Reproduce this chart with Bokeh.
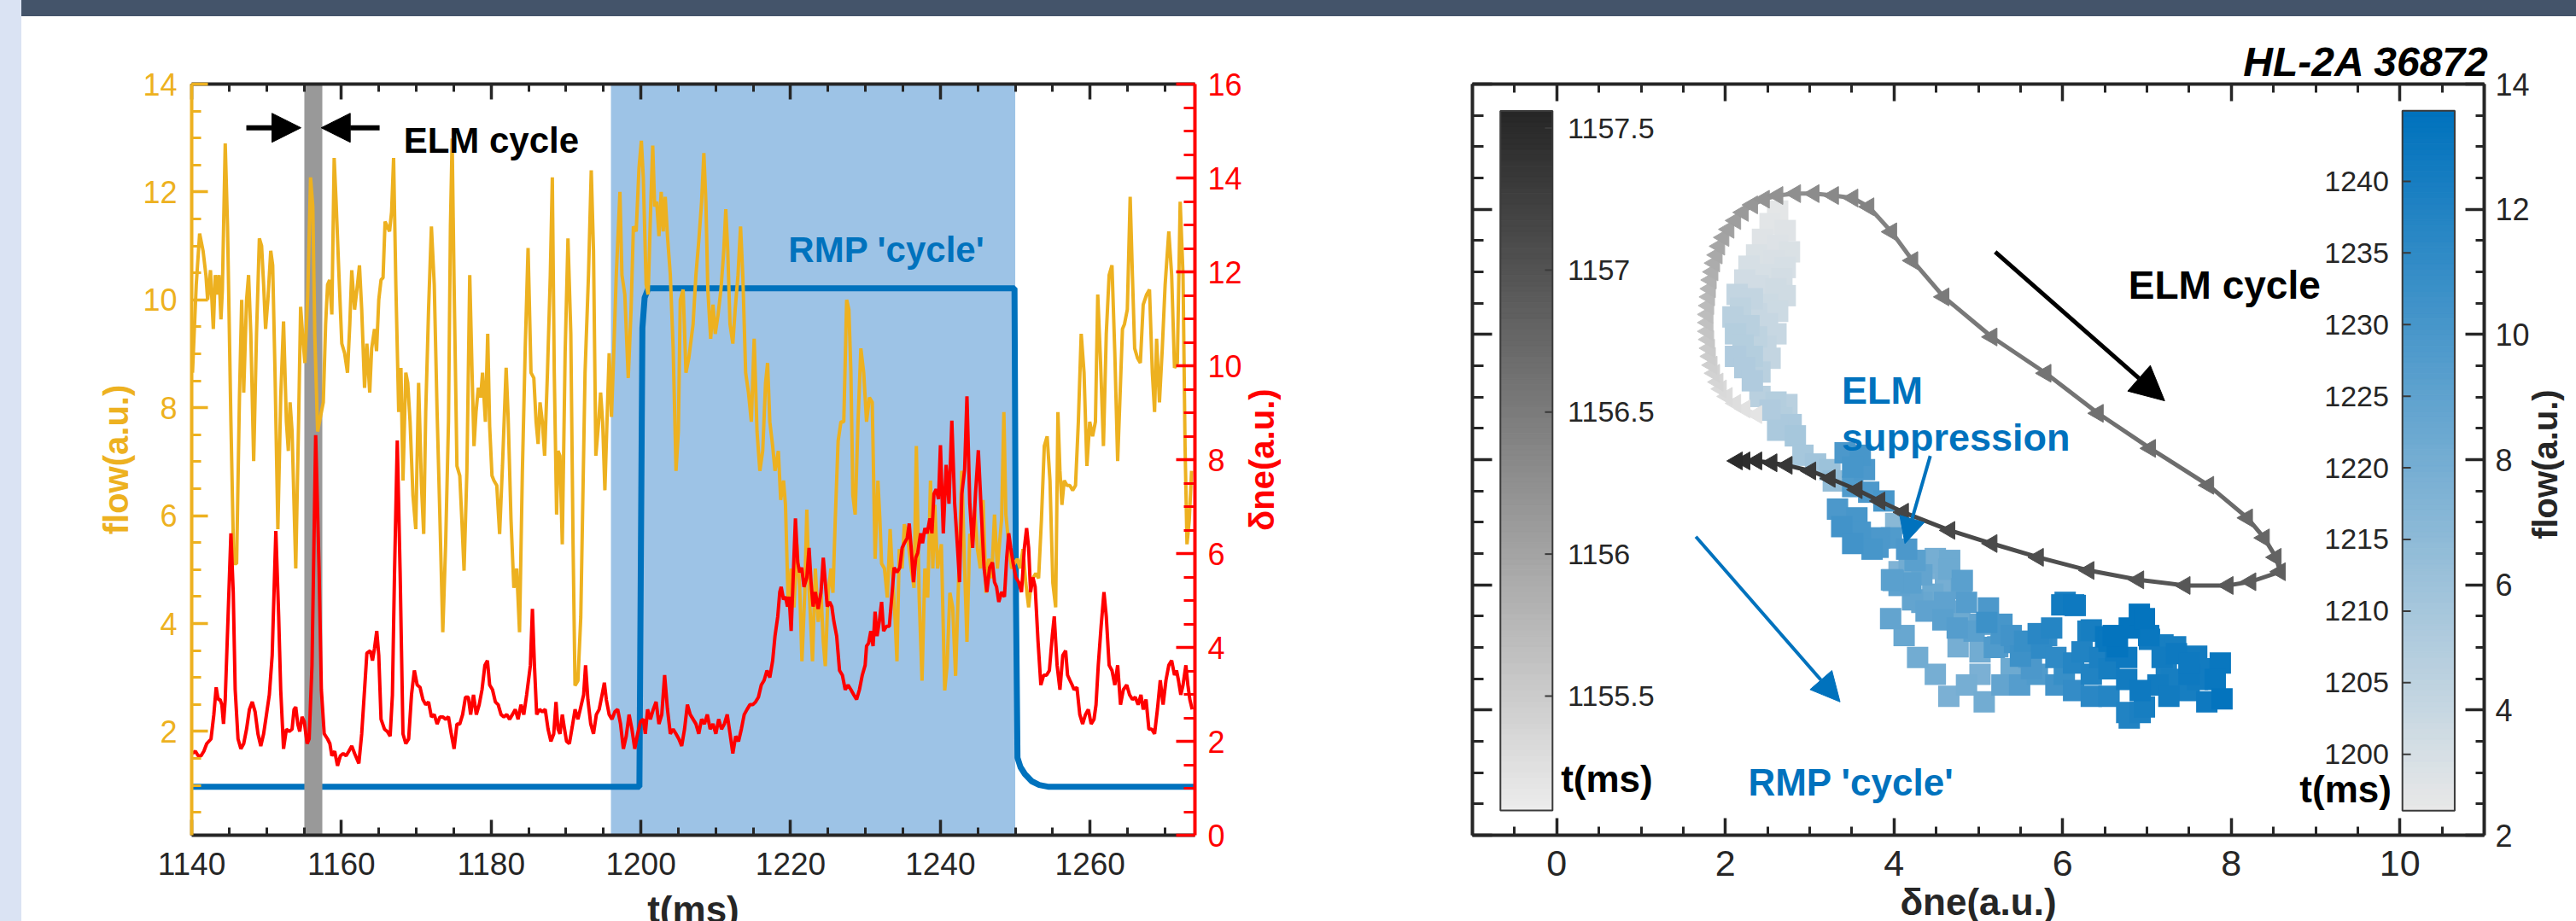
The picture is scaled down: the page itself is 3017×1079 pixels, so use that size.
import numpy as np
from bokeh.plotting import figure
from bokeh.models import (Range1d, LinearAxis, SingleIntervalTicker, FixedTicker, BoxAnnotation, Label,
                          Arrow, NormalHead, ColumnDataSource, Div)
from bokeh.layouts import row, column
from bokeh.embed import file_html
from bokeh.resources import INLINE
from bokeh.transform import linear_cmap
from bokeh.core.properties import value

FONT = "Liberation Sans"
GOLD = "#EDB120"
RED = "#FF0000"
BLUE = "#0072BD"
DARK = "#262626"

# ---------------- left panel data (t in ms) ----------------
flow_a = [(1140.11,8.65),(1140.61,10.28),(1141.06,11.23),(1141.52,10.91),(1141.90,10.46),(1142.13,10.0),
(1142.51,10.55),(1142.89,9.46),(1143.15,10.46),(1143.42,10.1),(1143.65,10.46),(1143.91,9.64),(1144.10,10.19),
(1144.48,12.9),(1144.79,11.36),(1145.24,7.74),(1145.62,5.11),(1146.00,5.11),(1146.38,8.19),(1146.68,10.0),
(1146.95,8.28),(1147.33,10.0),(1147.60,10.46),(1147.90,9.37),(1148.28,7.01),(1148.66,9.37),(1149.04,11.14),
(1149.34,11.0),(1149.61,10.28),(1149.87,9.46),(1150.18,10.0),(1150.56,10.91),(1150.82,10.64),(1151.13,8.65),
(1151.51,5.75),(1151.89,8.19),(1152.27,9.6),(1152.65,7.74),(1152.91,7.2),(1153.14,8.1),(1153.41,7.56),
(1153.90,5.02),(1154.28,7.74),(1154.55,9.87),(1154.81,9.37),(1155.12,8.83),(1155.50,10.1),(1155.88,12.27),
(1156.18,11.73),(1156.44,9.37),(1156.82,7.56),(1157.20,7.83),(1157.58,8.1),(1157.89,9.55),(1158.15,10.28),
(1158.42,10.37),(1158.72,9.73),(1159.03,12.63),(1159.29,11.82),(1159.67,10.46),(1160.05,9.19),(1160.43,9.01),
(1160.81,8.65),(1161.12,9.55),(1161.38,10.55),(1161.76,9.82),(1162.14,10.28),(1162.41,10.64),(1162.71,9.82),
(1163.09,8.37),(1163.40,9.19),(1163.78,8.28),(1164.04,9.1),(1164.42,9.46),(1164.69,9.05),(1164.99,10.0),
(1165.29,10.37),(1165.56,10.41),(1165.83,11.45),(1166.13,11.36),(1166.43,11.27),(1166.70,11.63),(1166.97,12.63),
(1167.27,10.28),(1167.65,7.92),(1167.95,8.74),(1168.22,6.65),(1168.60,8.65),(1168.86,8.46),(1169.17,7.74),
(1169.55,6.38),(1169.93,5.75),(1170.31,8.46),(1170.69,6.56),(1170.99,5.66),(1171.26,7.92),(1171.64,9.82),
(1172.02,11.36),(1172.40,10.28),(1172.78,7.92),(1173.16,5.93),(1173.54,3.84),(1173.92,5.47),(1174.30,7.74),
(1174.56,11.36),(1174.79,12.99),(1175.05,10.28),(1175.43,6.92),(1175.81,6.74),(1176.08,5.93),(1176.38,4.98),
(1176.76,6.83),(1177.14,10.46),(1177.45,8.65),(1177.71,7.29),(1177.98,7.92),(1178.28,8.37),(1178.59,8.19),
(1178.85,8.65),(1179.23,7.74),(1179.54,9.37),(1179.80,7.65),(1180.11,6.74),(1180.37,6.65),(1180.75,6.56),
(1181.13,5.66),(1181.51,6.92),(1182.00,8.74),(1182.27,7.83),(1182.65,5.93),(1183.03,4.66),(1183.41,5.02),
(1183.79,3.84),(1184.17,6.83),(1184.55,9.1),(1184.93,10.96)]
flow_b = [(1185.32,8.65),(1185.70,8.55),(1186.00,7.74),(1186.27,7.33),(1186.53,8.1),(1186.84,7.74),(1187.14,7.11),
(1187.52,8.65),(1187.90,10.46),(1188.17,12.27),(1188.43,8.65),(1188.74,6.02),(1188.93,7.2),(1189.19,7.11),
(1189.50,5.47),(1189.88,9.01),(1190.26,11.14),(1190.64,9.37),(1190.94,5.47),(1191.20,2.85),(1191.59,2.94),
(1191.97,4.12),(1192.54,8.65),(1193.00,10.46),(1193.37,12.4),(1193.67,10.91),(1193.98,7.11),(1194.36,7.74),
(1194.62,8.28),(1194.89,7.74),(1195.19,6.47),(1195.57,8.19),(1195.76,9.01),(1196.07,7.83),(1196.33,8.83),
(1196.71,10.46),(1197.20,12.0),(1197.47,10.46),(1197.85,10.1),(1198.31,8.55),(1198.69,9.82),(1199.00,11.36),
(1199.37,11.27),(1199.75,12.45),(1200.06,12.95),(1200.32,12.27),(1200.70,10.28),(1200.97,10.1),(1201.35,11.91),
(1201.58,12.86),(1201.84,11.73),(1202.11,11.82),(1202.41,11.18),(1202.71,12.0),(1202.98,11.27),(1203.25,11.91),
(1203.55,11.18),(1203.93,10.46),(1204.31,9.1),(1204.69,6.83),(1205.00,7.56),(1205.26,10.0),(1205.64,10.19),
(1206.02,8.65),(1206.40,8.92),(1206.97,9.55),(1207.35,10.46),(1207.73,11.09),(1208.11,11.82),(1208.41,12.72),
(1208.68,11.82),(1208.94,10.19),(1209.32,9.28),(1209.63,9.91),(1209.93,9.37),(1210.31,9.73),(1210.69,10.19),
(1211.07,10.91),(1211.34,11.68),(1211.60,10.91),(1211.90,9.55),(1212.28,9.19),(1212.59,9.82),(1212.97,10.46),
(1213.31,11.36),(1213.61,10.46),(1213.99,8.65),(1214.37,8.28),(1214.75,7.74),(1215.13,9.28),(1215.51,7.56),
(1215.89,6.83),(1216.27,7.2),(1216.65,8.46),(1216.92,8.83),(1217.22,7.74),(1217.60,7.29),(1217.91,6.83),
(1218.36,7.2),(1218.67,6.29),(1219.05,6.65),(1219.31,6.2),(1219.69,4.3),(1220.07,5.02),(1220.45,4.3),
(1220.83,5.47),(1221.21,4.66),(1221.51,3.3),(1221.89,4.57),(1222.16,6.11),(1222.46,4.66),(1222.92,3.3),
(1223.30,5.02),(1223.68,4.03),(1224.06,4.57),(1224.36,3.66),(1224.63,3.21),(1225.01,4.57),(1225.39,5.02),
(1225.65,4.57),(1225.96,5.93),(1226.34,7.38),(1226.72,7.74),(1227.10,7.74),(1227.48,10.0),(1227.78,9.82),
(1228.05,8.65),(1228.31,6.38),(1228.62,6.02),(1229.00,7.74),(1229.38,9.1),(1229.76,8.65),(1230.14,7.74)]
flow_c = [(1230.52,8.19),(1230.90,8.1),(1231.28,5.2),(1231.66,6.65),(1231.92,5.93),(1232.15,5.11),(1232.53,5.02),
(1232.91,4.48),(1233.29,5.75),(1233.56,5.02),(1233.94,4.12),(1234.20,3.3),(1234.51,5.38),(1234.89,5.02),
(1235.19,5.84),(1235.65,5.57),(1236.10,5.02),(1236.48,4.66),(1236.79,7.29),(1237.17,4.48),(1237.55,2.94),
(1237.93,5.02),(1238.31,4.48),(1238.68,6.65),(1238.99,5.02),(1239.25,6.2),(1239.63,5.02),(1240.13,5.47),
(1240.58,2.76),(1240.89,3.21),(1241.27,4.57),(1241.65,4.3),(1242.03,3.03),(1242.48,5.02),(1242.86,6.83),
(1243.24,5.02),(1243.55,3.66),(1243.93,5.66),(1244.31,5.57),(1244.57,6.11),(1244.95,5.38),(1245.33,5.02),
(1245.71,6.29),(1246.09,4.57),(1246.47,5.2),(1246.85,4.84),(1247.23,6.02),(1247.61,5.02),(1248.18,5.93),
(1248.48,7.92),(1248.75,6.02),(1249.13,5.47),(1249.51,5.02),(1249.89,5.11),(1250.27,5.2),(1250.65,5.02),
(1251.03,5.38),(1251.41,4.75),(1251.79,4.3),(1252.05,4.66),(1252.36,4.84),(1252.74,4.93),(1253.12,4.84),
(1253.50,5.93),(1253.88,7.29),(1254.26,7.47),(1254.64,6.65),(1255.02,4.75),(1255.40,4.3),(1255.70,7.92),
(1255.97,6.83),(1256.23,6.2),(1256.54,6.65),(1256.92,6.56),(1257.29,6.56),(1257.67,6.47),(1258.05,6.56),
(1258.43,7.74),(1258.81,9.37),(1259.19,8.65),(1259.57,6.92),(1259.95,7.74),(1260.33,7.47),(1260.71,7.74),
(1261.02,10.1),(1261.40,8.83),(1261.78,7.29),(1262.16,9.37),(1262.54,10.46),(1262.92,10.64),(1263.30,9.01),
(1263.68,7.01),(1264.06,8.46),(1264.32,9.46),(1264.59,9.55),(1264.97,9.82),(1265.35,11.91),(1265.65,10.46),
(1265.95,9.1),(1266.33,8.92),(1266.71,8.83),(1267.09,9.91),(1267.55,10.1),(1267.93,10.19),(1268.31,8.65),
(1268.61,7.92),(1268.88,9.28),(1269.26,8.1),(1269.64,9.1),(1270.02,10.28),(1270.51,11.27),(1270.89,10.46),
(1271.27,8.74),(1271.65,8.83),(1272.03,11.82),(1272.41,10.46),(1272.68,7.29),(1272.94,5.47),(1273.25,5.93),
(1273.55,6.83)]

dne_a = [(1140.11,1.74),(1140.49,1.79),(1140.87,1.69),(1141.25,1.69),(1141.63,1.79),(1142.01,1.95),(1142.58,2.05),
(1142.96,2.57),(1143.27,3.15),(1143.53,2.89),(1143.80,2.89),(1144.03,2.78),(1144.25,2.37),(1144.48,2.89),
(1144.86,4.66),(1145.24,6.43),(1145.55,5.18),(1145.81,3.1),(1146.19,2.05),(1146.57,1.84),(1146.95,1.95),
(1147.33,2.26),(1147.71,2.68),(1148.09,2.84),(1148.47,2.63),(1148.85,2.16),(1149.23,1.9),(1149.61,2.16),
(1149.99,2.57),(1150.37,2.99),(1150.75,3.83),(1151.24,6.48),(1151.62,4.66),(1151.89,3.1),(1152.27,1.84),
(1152.65,2.26),(1153.03,2.21),(1153.41,2.26),(1153.67,2.68),(1153.90,2.73),(1154.17,2.37),(1154.43,2.21),
(1154.74,2.52),(1155.04,2.42),(1155.42,1.95),(1155.69,2.05),(1156.07,3.62),(1156.56,8.52),(1157.01,5.7),
(1157.32,3.1),(1157.70,2.16),(1158.15,2.05),(1158.46,1.95),(1158.72,1.69),(1159.10,1.79),(1159.48,1.48),
(1159.86,1.69),(1160.24,1.74),(1160.62,1.69),(1161.00,1.79),(1161.38,1.9),(1161.76,1.74),(1162.33,1.53),
(1162.71,2.16),(1163.09,3.1),(1163.40,3.88),(1163.85,3.93),(1164.15,3.72),(1164.42,3.98),(1164.72,4.35),
(1164.99,3.83),(1165.29,2.47),(1165.75,2.26),(1166.13,2.21),(1166.51,2.11),(1166.81,2.99),(1167.08,5.49),
(1167.46,8.41),(1167.84,5.6),(1168.22,2.16),(1168.60,1.95),(1168.98,2.05),(1169.36,2.99),(1169.74,3.51),
(1170.12,3.2),(1170.50,3.15),(1170.88,2.89),(1171.26,2.78),(1171.64,2.84),(1172.02,2.52),(1172.40,2.57),
(1172.78,2.37),(1173.16,2.52),(1173.54,2.52),(1173.92,2.47),(1174.30,2.52),(1174.67,2.16),(1175.05,1.84),
(1175.43,2.37),(1175.81,2.37),(1176.19,2.57),(1176.57,2.94),(1176.95,2.94),(1177.26,2.57),(1177.64,2.99),
(1178.02,2.57),(1178.40,2.78),(1178.78,3.1),(1179.16,3.62),(1179.50,3.72),(1179.80,3.2),(1180.18,3.1),
(1180.56,2.84),(1180.94,2.78),(1181.32,2.57),(1181.70,2.52),(1182.08,2.57),(1182.46,2.47),(1182.84,2.57),
(1183.22,2.68),(1183.60,2.47),(1183.98,2.78),(1184.36,2.57),(1184.74,2.99)]
dne_b = [(1185.24,3.62),(1185.51,4.82),(1185.78,3.62),(1186.08,2.57),(1186.46,2.68),(1186.84,2.63),(1187.22,2.68),
(1187.60,2.26),(1187.98,2.0),(1188.36,2.16),(1188.66,2.84),(1188.93,2.26),(1189.19,2.16),(1189.50,2.57),
(1189.80,2.26),(1190.07,2.0),(1190.45,1.95),(1190.83,2.31),(1191.21,2.68),(1191.59,2.47),(1191.97,2.73),
(1192.35,2.99),(1192.61,3.62),(1192.92,2.89),(1193.30,2.37),(1193.67,2.16),(1194.05,2.57),(1194.43,2.68),
(1194.81,2.99),(1195.12,3.25),(1195.38,2.89),(1195.76,2.57),(1196.14,2.47),(1196.52,2.63),(1196.90,2.68),
(1197.28,2.37),(1197.66,1.84),(1198.04,2.11),(1198.42,2.57),(1198.80,2.26),(1199.18,1.84),(1199.56,2.16),
(1199.94,2.42),(1200.32,2.47),(1200.59,2.16),(1200.89,2.68),(1201.27,2.47),(1201.65,2.68),(1202.03,2.84),
(1202.41,2.37),(1202.79,2.57),(1203.17,3.41),(1203.55,2.68),(1203.93,2.16),(1204.31,2.26),(1204.69,2.16),
(1205.07,2.05),(1205.45,1.9),(1205.83,2.26),(1206.21,2.78),(1206.59,2.57),(1206.97,2.47),(1207.35,2.37),
(1207.73,2.16),(1208.11,2.47),(1208.49,2.37),(1208.87,2.57),(1209.25,2.26),(1209.63,2.37),(1210.01,2.16),
(1210.39,2.47),(1210.77,2.26),(1211.15,2.37),(1211.53,2.57),(1211.91,2.16),(1212.28,1.74),(1212.66,2.11),
(1213.04,2.0),(1213.42,2.26),(1213.80,2.57),(1214.18,2.68),(1214.56,2.78),(1214.94,2.78),(1215.32,2.84),
(1215.70,2.94),(1216.08,3.2),(1216.46,3.3),(1216.84,3.51),(1217.22,3.36),(1217.60,3.72),(1217.91,4.24),
(1218.28,4.66),(1218.55,5.18),(1218.74,5.29),(1219.05,5.02),(1219.31,5.08),(1219.58,4.87),(1219.80,5.08),
(1220.07,4.35),(1220.34,5.49),(1220.64,6.75),(1220.94,5.81),(1221.21,5.6),(1221.48,5.7),(1221.78,5.29),
(1222.16,5.49),(1222.46,6.12),(1222.73,5.39),(1223.00,4.87),(1223.30,5.18),(1223.68,4.82),(1224.06,5.18),
(1224.36,5.91),(1224.63,5.39),(1224.89,4.87),(1225.20,4.97),(1225.50,4.87),(1225.77,4.56),(1226.15,4.24),
(1226.53,3.51),(1226.91,3.41),(1227.29,3.1),(1227.67,3.2),(1228.05,3.1),(1228.43,2.99),(1228.81,2.89),
(1229.19,3.1),(1229.57,3.41),(1229.95,3.62)]
dne_c = [(1230.14,4.03),(1230.41,4.09),(1230.71,4.35),(1231.01,4.03),(1231.28,4.76),(1231.54,4.24),(1231.85,4.56),
(1232.15,4.97),(1232.42,4.35),(1232.80,4.45),(1233.18,4.45),(1233.56,5.18),(1233.82,5.7),(1234.20,5.6),
(1234.58,5.7),(1234.89,6.12),(1235.19,6.22),(1235.57,6.33),(1235.84,6.64),(1236.10,6.12),(1236.41,5.39),
(1236.71,5.91),(1236.98,6.02),(1237.36,6.43),(1237.62,6.22),(1237.93,6.54),(1238.23,6.43),(1238.61,6.75),
(1238.87,6.43),(1239.14,7.27),(1239.44,7.37),(1239.75,7.16),(1240.01,8.31),(1240.39,6.43),(1240.77,7.89),
(1241.15,7.06),(1241.53,8.83),(1241.91,7.06),(1242.29,6.12),(1242.56,5.39),(1242.86,7.27),(1243.24,7.79),
(1243.55,9.35),(1243.93,7.06),(1244.31,6.12),(1244.69,7.27),(1245.07,8.2),(1245.45,6.95),(1245.83,5.7),
(1246.21,5.18),(1246.58,5.7),(1246.96,5.81),(1247.23,5.39),(1247.50,5.29),(1247.80,4.97),(1248.18,5.18),
(1248.56,5.08),(1248.86,5.91),(1249.13,6.43),(1249.40,6.12),(1249.70,5.81),(1250.08,5.49),(1250.46,5.39),
(1250.84,5.18),(1251.22,6.12),(1251.52,6.54),(1251.79,6.12),(1252.05,5.18),(1252.36,5.49),(1252.66,5.29),
(1253.04,4.14),(1253.42,3.2),(1253.80,3.41),(1254.18,3.41),(1254.56,3.51),(1254.94,4.24),(1255.21,4.66),
(1255.59,3.62),(1255.97,3.1),(1256.35,3.83),(1256.73,3.93),(1256.99,3.41),(1257.30,3.3),(1257.60,3.2),
(1257.86,3.1),(1258.24,3.15),(1258.62,2.57),(1259.00,2.37),(1259.38,2.57),(1259.76,2.68),(1260.14,2.37),
(1260.52,2.47),(1260.79,2.78),(1261.09,3.62),(1261.47,4.45),(1261.85,5.18),(1262.16,4.66),(1262.54,3.62),
(1262.92,3.51),(1263.30,3.2),(1263.68,3.62),(1264.06,2.78),(1264.44,3.1),(1264.89,3.2),(1265.27,2.99),
(1265.65,2.89),(1266.03,2.94),(1266.41,2.78),(1266.79,2.99),(1267.09,2.68),(1267.47,2.89),(1267.85,2.26),
(1268.23,2.26),(1268.61,2.16),(1268.99,2.68),(1269.37,3.3),(1269.75,2.78),(1270.13,3.3),(1270.51,3.62),
(1270.89,3.72),(1271.27,3.41),(1271.54,3.51),(1271.80,3.3),(1272.11,2.99),(1272.41,3.2),(1272.79,3.62),
(1273.06,3.2),(1273.32,2.89),(1273.63,2.68)]

rmp_t = [1140.0, 1199.8, 1200.0, 1200.2, 1200.5, 1201.0, 1249.9, 1250.1, 1250.3, 1250.7, 1251.3, 1252.2, 1253.2, 1254.5, 1274.0]
rmp_v = [1.03, 1.03, 6.0, 10.8, 11.45, 11.65, 11.65, 5.0, 1.65, 1.45, 1.3, 1.15, 1.07, 1.03, 1.03]

elm_window = (1155.05, 1157.45)
rmp_window = (1196.0, 1250.0)

# ---------------- right panel data ----------------
elm_x = [2.37,2.23,2.12,2.02,1.95,1.91,1.87,1.84,1.82,1.81,1.80,1.79,1.79,1.79,1.80,1.81,1.82,1.83,1.85,1.87,
         1.90,1.93,1.98,2.04,2.12,2.21,2.32,2.46,2.62,2.83,3.05,3.28,3.51,3.70,3.97,4.22,4.59,5.16,5.80,6.42,
         7.04,7.73,8.19,8.39,8.53,8.58,8.23,7.96,7.45,6.90,6.31,5.71,5.16,4.66,4.11,3.83,3.56,3.24,3.01,2.73,
         2.55,2.37,2.23,2.14]
elm_y = [8.72,8.81,8.90,9.01,9.13,9.24,9.38,9.51,9.65,9.78,9.92,10.05,10.19,10.32,10.46,10.60,10.73,10.87,11.00,11.14,
         11.27,11.41,11.55,11.68,11.82,11.95,12.07,12.16,12.22,12.25,12.25,12.22,12.18,12.04,11.64,11.18,10.60,9.96,9.38,8.74,
         8.18,7.59,7.07,6.75,6.44,6.21,6.05,5.99,5.99,6.08,6.23,6.44,6.66,6.87,7.16,7.34,7.52,7.70,7.82,7.91,
         7.95,7.98,7.98,7.98]
elm_t_range = (1155.2, 1157.5)

sc_x = [2.62,2.53,2.71,2.44,2.62,2.76,2.37,2.57,2.28,2.71,
        2.48,2.67,2.23,2.39,2.60,2.14,2.32,2.71,2.50,2.18,2.09,2.37,2.62,2.28,2.50,2.12,2.37,2.60,
        2.21,2.48,2.12,2.32,2.53,2.23,2.41,2.32,2.41,2.60,2.73,2.53,2.67,2.78,2.62,2.83,
        2.92,3.07,3.24,3.42,3.60,3.51,3.65,
        3.28,3.51,3.70,3.88,3.33,3.56,3.38,3.60,3.83,3.51,3.74,3.97,4.02,4.15,4.25,4.06,4.43,4.57,4.66,4.20,4.61,4.80,3.97,
        4.06,4.22,4.46,4.38,4.58,4.78,4.75,4.95,5.10,5.27,5.43,5.19,5.50,5.71,5.87,6.03,6.15,5.75,6.30,6.51,6.63,6.79,6.91,7.03,7.19,7.35,7.59,3.98,
        3.81,3.99,4.18,4.33,4.49,4.65,4.81,4.33,4.60,4.86,5.12,5.02,5.28,5.39,5.55,5.23,5.02,4.76,5.02,5.39,5.60,5.81,5.92,6.13,6.34,
        6.55,6.76,6.92,7.13,7.29,7.50,7.71,7.87,7.89,7.71,7.50,7.23,6.97,6.76,6.55,6.34,6.13,5.92,5.70,5.49,5.28,5.07,4.86,4.65,4.49,
        4.28,4.12,3.96,5.99,6.13,6.34,6.55,6.65,6.76,6.97,7.02,6.60,6.23,6.02,6.44,7.18,7.34,7.50,7.60,7.81,7.26,6.92,6.79,5.63]
sc_y = [11.97,11.77,11.66,11.52,11.43,11.32,11.27,11.18,11.09,11.07,
        10.96,10.89,10.87,10.78,10.73,10.64,10.57,10.62,10.48,10.42,10.28,10.33,10.37,10.14,10.17,10.01,9.96,10.01,
        9.83,9.81,9.65,9.65,9.62,9.47,9.40,9.26,9.01,8.92,8.88,8.79,8.67,8.56,8.47,8.38,
        8.07,7.93,7.84,8.11,8.07,7.88,7.84,
        7.66,7.57,7.48,7.34,7.21,7.07,6.93,6.84,6.75,6.66,6.57,6.75,6.98,6.57,6.39,6.21,6.35,6.26,6.39,6.03,6.03,5.94,6.08,
        5.99,5.76,5.85,5.58,5.44,5.58,5.31,5.26,5.40,5.22,5.08,5.00,4.86,5.22,5.31,5.72,5.67,4.99,5.26,5.17,4.95,5.31,5.53,5.13,5.04,4.90,4.86,6.08,
        6.60,6.07,6.34,6.16,6.42,6.25,6.07,5.72,5.72,5.72,5.63,5.37,5.37,5.19,5.10,5.01,4.93,5.01,4.57,4.66,4.84,5.19,4.84,4.75,4.57,
        4.66,4.49,4.31,4.40,4.49,4.57,4.66,4.75,4.18,4.13,4.31,4.66,4.05,3.96,4.22,4.22,4.31,4.40,4.57,4.40,4.40,4.13,4.40,4.22,4.57,
        4.84,5.19,5.46,5.68,5.68,5.28,5.10,5.01,4.84,5.46,5.19,5.19,4.93,4.57,4.84,4.84,5.01,4.75,4.49,4.49,4.22,3.96,3.87,4.66]
sc_t = [1197,1197.5,1198,1198,1198.5,1199,1199,1199.5,1200,1200,
        1200,1200.5,1201,1201,1201.5,1204,1204,1201.5,1202,1205,1206,1203,1202,1206,1203,1207,1205,1203,
        1207,1204,1208,1207,1204,1208,1206,1208,1206,1207,1206,1208,1207,1209,1209,1210,
        1210,1211,1212,1229,1230,1230,1229,
        1214,1228,1229,1230,1229,1230,1231,1230,1229,1231,1230,1228,1216,1229,1226,1218,1220,1219,1222,1226,1220,1224,1225,
        1225,1224,1222,1225,1226,1222,1227,1226,1232,1230,1231,1228,1232,1236,1237,1240,1241,1235,1239,1243,1242,1244,1244,1241,1240,1242,1241,1225,
        1229,1226,1221,1224,1220,1222,1226,1223,1225,1227,1229,1224,1230,1231,1233,1227,1221,1220,1219,1222,1226,1234,1235,1237,1238,
        1240,1241,1242,1241,1240,1242,1241,1243,1244,1242,1240,1239,1240,1238,1237,1236,1234,1231,1228,1227,1224,1221,1220,1219,1220,
        1221,1223,1224,1241,1242,1240,1243,1244,1242,1244,1243,1244,1238,1233,1239,1241,1240,1242,1241,1243,1241,1239,1238,1229]

gray_cb_ticks = [1155.5, 1156.0, 1156.5, 1157.0, 1157.5]
gray_cb_labels = ["1155.5", "1156", "1156.5", "1157", "1157.5"]
blue_cb_ticks = [1200, 1205, 1210, 1215, 1220, 1225, 1230, 1235, 1240]
blue_cb_labels = [str(v) for v in blue_cb_ticks]
gray_cb_range = (1155.097, 1157.56)
blue_cb_range = (1196.07, 1244.93)


def lerp_palette(c0, c1, n=256):
    out = []
    for i in range(n):
        f = i / (n - 1)
        out.append("#%02x%02x%02x" % tuple(int(round(a + (b - a) * f)) for a, b in zip(c0, c1)))
    return out


GRAY_PAL = lerp_palette((236, 236, 236), (38, 38, 38))
BLUE_PAL = lerp_palette((232, 232, 232), (0, 114, 189))


def style_axis(ax, color, lab_color, size, maj_in, min_in, standoff, lw=4):
    ax.axis_line_color = color
    ax.axis_line_width = lw
    ax.major_tick_line_color = color
    ax.major_tick_line_width = 3.5
    ax.minor_tick_line_color = color
    ax.minor_tick_line_width = 3
    ax.major_tick_in = maj_in
    ax.major_tick_out = 0
    ax.minor_tick_in = min_in
    ax.minor_tick_out = 0
    ax.major_label_text_font = FONT
    ax.major_label_text_font_size = size
    ax.major_label_text_color = lab_color
    ax.major_label_standoff = standoff


def axis_title(ax, text, color, size, standoff):
    ax.axis_label = text
    ax.axis_label_text_font = FONT
    ax.axis_label_text_font_style = "bold"
    ax.axis_label_text_font_size = size
    ax.axis_label_text_color = color
    ax.axis_label_standoff = standoff


def right_title(p, text, color, start_px, standoff):
    # a label-only axis on the right, reading bottom-to-top like the reference
    ax = LinearAxis(y_range_name="lab", ticker=FixedTicker(ticks=[start_px], minor_ticks=[]),
                    major_label_overrides={start_px: text}, major_label_orientation=np.pi / 2)
    ax.axis_line_color = None
    ax.major_tick_line_color = None
    ax.minor_tick_line_color = None
    ax.major_tick_in = 0
    ax.major_tick_out = 0
    ax.minor_tick_in = 0
    ax.minor_tick_out = 0
    ax.major_label_text_font = FONT
    ax.major_label_text_font_style = "bold"
    ax.major_label_text_font_size = "40px"
    ax.major_label_text_color = color
    ax.major_label_standoff = standoff
    p.add_layout(ax, "right")


# ================= LEFT PANEL =================
p1 = figure(width=1535, height=1090, x_range=Range1d(1140, 1274), y_range=Range1d(0.076, 14.0),
            output_backend="svg", toolbar_location=None,
            min_border_left=199, min_border_right=161, min_border_top=78, min_border_bottom=131)
p1.extra_y_ranges = {"dne": Range1d(0, 16), "lab": Range1d(0, 881)}
p1.grid.visible = False
p1.outline_line_color = None
p1.background_fill_color = "white"
p1.border_fill_color = "white"

p1.xaxis.ticker = SingleIntervalTicker(interval=20, num_minor_ticks=4)
style_axis(p1.xaxis[0], DARK, DARK, "37px", 18, 9, 20)
axis_title(p1.xaxis[0], "t(ms)", DARK, "44px", 13)
p1.yaxis.ticker = SingleIntervalTicker(interval=2, num_minor_ticks=4)
style_axis(p1.yaxis[0], GOLD, GOLD, "36px", 19, 11, 17)
axis_title(p1.yaxis[0], "flow(a.u.)", GOLD, "40px", 6)

ax_top = LinearAxis(ticker=SingleIntervalTicker(interval=20, num_minor_ticks=4))
style_axis(ax_top, DARK, None, "2px", 18, 9, 0)
p1.add_layout(ax_top, "above")
ax_red = LinearAxis(y_range_name="dne", ticker=SingleIntervalTicker(interval=2, num_minor_ticks=4))
style_axis(ax_red, RED, RED, "36px", 22, 13, 15)
p1.add_layout(ax_red, "right")
right_title(p1, "δne(a.u.)", RED, 357, 21)

p1.add_layout(BoxAnnotation(left=rmp_window[0], right=rmp_window[1], fill_color="#9DC3E6",
                            fill_alpha=1.0, line_color=None, level="underlay"))

p1.line(rmp_t, rmp_v, y_range_name="dne", line_color=BLUE, line_width=7)
p1.quad(left=[elm_window[0]], right=[elm_window[1]], bottom=[0.076], top=[14.0],
        fill_color="#999999", line_color=None)

flow_all = flow_a + flow_b + flow_c
dne_all = dne_a + dne_b + dne_c
p1.line([p[0] for p in flow_all], [p[1] for p in flow_all], line_color=GOLD, line_width=4)
p1.line([p[0] for p in dne_all], [p[1] for p in dne_all], y_range_name="dne", line_color=RED, line_width=4)

p1.add_layout(Arrow(end=NormalHead(size=34, fill_color="black", line_color="black"),
                    x_start=1147.3, y_start=13.19, x_end=1154.6, y_end=13.19,
                    line_color="black", line_width=6))
p1.add_layout(Arrow(end=NormalHead(size=34, fill_color="black", line_color="black"),
                    x_start=1165.1, y_start=13.19, x_end=1157.3, y_end=13.19,
                    line_color="black", line_width=6))
p1.add_layout(Label(x=1168.3, y=12.96, text="ELM cycle", text_font=FONT, text_font_style="bold",
                    text_font_size="42px", text_color="black", text_baseline="alphabetic"))
p1.add_layout(Label(x=1219.7, y=10.93, text="RMP 'cycle'", text_font=FONT, text_font_style="bold",
                    text_font_size="42px", text_color=BLUE, text_baseline="alphabetic"))

# ================= RIGHT PANEL =================
p2 = figure(width=1477, height=1090, x_range=Range1d(-1.0, 11.0), y_range=Range1d(2.0, 14.0),
            output_backend="svg", toolbar_location=None, title="HL-2A 36872",
            min_border_left=164, min_border_right=128, min_border_top=79, min_border_bottom=125)
p2.grid.visible = False
p2.outline_line_color = None
p2.background_fill_color = "white"
p2.border_fill_color = "white"
p2.title.align = "right"
p2.title.offset = -6
p2.title.standoff = 0
p2.title.text_font = FONT
p2.title.text_font_size = "48px"
p2.title.text_font_style = "bold italic"
p2.title.text_color = "black"
p2.extra_y_ranges = {"tg": Range1d(1155.01, 1157.655), "tb": Range1d(1194.35, 1246.79),
                     "lab": Range1d(0, 886)}

p2.xaxis.ticker = SingleIntervalTicker(interval=2, num_minor_ticks=4)
style_axis(p2.xaxis[0], DARK, DARK, "43px", 20, 10, 18)
axis_title(p2.xaxis[0], "δne(a.u.)", DARK, "44px", 3)
p2.yaxis.ticker = SingleIntervalTicker(interval=2, num_minor_ticks=4)
style_axis(p2.yaxis[0], DARK, None, "2px", 23, 13, 0)
ax2_top = LinearAxis(ticker=SingleIntervalTicker(interval=2, num_minor_ticks=4))
style_axis(ax2_top, DARK, None, "1px", 20, 10, 0)
p2.add_layout(ax2_top, "above")
ax2_right = LinearAxis(ticker=SingleIntervalTicker(interval=2, num_minor_ticks=4))
style_axis(ax2_right, DARK, DARK, "36px", 22, 10, 13)
p2.add_layout(ax2_right, "right")
right_title(p2, "flow(a.u.)", DARK, 349, 16)


def colorbar(p, x0, x1, lo, hi, pal, rng):
    n = 128
    edges = np.linspace(lo, hi, n + 1)
    src = ColumnDataSource(dict(bottom=edges[:-1], top=edges[1:], mid=0.5 * (edges[:-1] + edges[1:])))
    cm = linear_cmap("mid", pal, lo, hi)
    p.quad(left=x0, right=x1, bottom="bottom", top="top", source=src, y_range_name=rng,
           fill_color=cm, line_color=cm, line_width=1)
    p.quad(left=[x0], right=[x1], bottom=[lo], top=[hi], y_range_name=rng,
           fill_color=None, line_color="#3a3a3a", line_width=2)


colorbar(p2, -0.668, -0.05, gray_cb_range[0], gray_cb_range[1], GRAY_PAL, "tg")
colorbar(p2, 10.03, 10.65, blue_cb_range[0], blue_cb_range[1], BLUE_PAL, "tb")
p2.segment(x0=[-0.05 - 0.09] * len(gray_cb_ticks), x1=[-0.05] * len(gray_cb_ticks),
           y0=gray_cb_ticks, y1=gray_cb_ticks, y_range_name="tg", line_color="#3a3a3a", line_width=2)
p2.segment(x0=[10.03] * len(blue_cb_ticks), x1=[10.13] * len(blue_cb_ticks),
           y0=blue_cb_ticks, y1=blue_cb_ticks, y_range_name="tb", line_color="#3a3a3a", line_width=2)
p2.text(x=[0.13] * len(gray_cb_ticks), y=gray_cb_ticks, text=gray_cb_labels, y_range_name="tg",
        text_font=value(FONT), text_font_size="34px", text_color=DARK, text_align="left",
        text_baseline="middle")
p2.text(x=[9.87] * len(blue_cb_ticks), y=blue_cb_ticks, text=blue_cb_labels, y_range_name="tb",
        text_font=value(FONT), text_font_size="34px", text_color=DARK, text_align="right",
        text_baseline="middle")
p2.add_layout(Label(x=0.05, y=2.9, text="t(ms)", text_font=FONT, text_font_style="bold",
                    text_font_size="44px", text_color="black", text_align="left", text_baseline="middle"))
p2.add_layout(Label(x=9.9, y=2.73, text="t(ms)", text_font=FONT, text_font_style="bold",
                    text_font_size="44px", text_color="black", text_align="right", text_baseline="middle"))

order = np.argsort(sc_t, kind="stable")
sc_src = ColumnDataSource(dict(x=np.array(sc_x)[order], y=np.array(sc_y)[order], t=np.array(sc_t)[order]))
p2.scatter("x", "y", source=sc_src, marker="square", size=25,
           fill_color=linear_cmap("t", BLUE_PAL, blue_cb_range[0], blue_cb_range[1]), line_color=None)

elm_t = np.linspace(elm_t_range[0], elm_t_range[1], len(elm_x))
seg_src = ColumnDataSource(dict(x0=elm_x[:-1], x1=elm_x[1:], y0=elm_y[:-1], y1=elm_y[1:],
                                t=0.5 * (elm_t[:-1] + elm_t[1:])))
p2.segment("x0", "y0", "x1", "y1", source=seg_src, line_width=5,
           line_color=linear_cmap("t", GRAY_PAL, gray_cb_range[0], gray_cb_range[1]))
tri_src = ColumnDataSource(dict(x=elm_x, y=elm_y, t=elm_t))
gcm = linear_cmap("t", GRAY_PAL, gray_cb_range[0], gray_cb_range[1])
p2.scatter("x", "y", source=tri_src, marker="triangle", angle=np.pi / 2, size=21,
           fill_color=gcm, line_color=gcm)

p2.add_layout(Arrow(end=NormalHead(size=40, fill_color="black", line_color="black"),
                    x_start=5.2, y_start=11.32, x_end=7.21, y_end=8.94, line_color="black", line_width=5))
p2.add_layout(Arrow(end=NormalHead(size=30, fill_color=BLUE, line_color=BLUE),
                    x_start=4.43, y_start=8.06, x_end=4.13, y_end=6.66, line_color=BLUE, line_width=4))
p2.add_layout(Arrow(end=NormalHead(size=34, fill_color=BLUE, line_color=BLUE),
                    x_start=1.65, y_start=6.77, x_end=3.36, y_end=4.13, line_color=BLUE, line_width=4))
p2.add_layout(Label(x=6.78, y=10.79, text="ELM cycle", text_font=FONT, text_font_style="bold",
                    text_font_size="46px", text_color="black", text_baseline="alphabetic"))
p2.add_layout(Label(x=3.38, y=9.105, text="ELM", text_font=FONT, text_font_style="bold",
                    text_font_size="45px", text_color=BLUE, text_baseline="alphabetic"))
p2.add_layout(Label(x=3.38, y=8.36, text="suppression", text_font=FONT, text_font_style="bold",
                    text_font_size="45px", text_color=BLUE, text_baseline="alphabetic"))
p2.add_layout(Label(x=2.27, y=2.85, text="RMP 'cycle'", text_font=FONT, text_font_style="bold",
                    text_font_size="44px", text_color=BLUE, text_baseline="alphabetic"))

# ================= page =================
strip = Div(width=25, height=1079, margin=0, styles={"background-color": "#DAE3F3"})
banner = Div(width=3012, height=19, margin=0, styles={"background-color": "#44546A"})
layout = row(strip, column(banner, row(p1, p2)), width=3017, height=1079,
             styles={"overflow": "hidden"})

open("out.html", "w").write(file_html(layout, INLINE))
